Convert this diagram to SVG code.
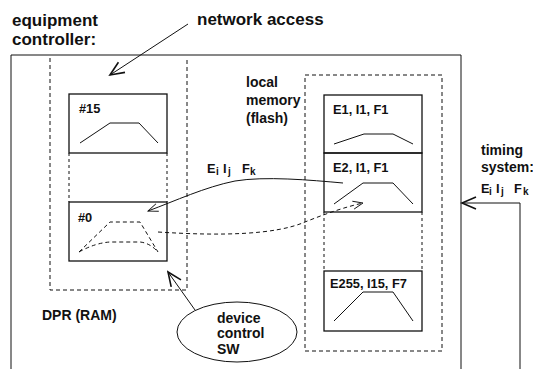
<svg xmlns="http://www.w3.org/2000/svg" width="533" height="369" viewBox="0 0 533 369">
<style>
text{font-family:"Liberation Sans",Arial,sans-serif;font-weight:bold;fill:#111}
.t17{font-size:17px}
.t14{font-size:14px}
.t13{font-size:12.8px}
.sub{font-size:10px}
.solid{fill:none;stroke:#111;stroke-width:1.3}
.thin{fill:none;stroke:#111;stroke-width:1}
.dash{fill:none;stroke:#111;stroke-width:1;stroke-dasharray:4,3}
.dash2{fill:none;stroke:#111;stroke-width:1;stroke-dasharray:3,3}
</style>
<defs>
<marker id="big" markerUnits="userSpaceOnUse" viewBox="-16 -8 18 16" markerWidth="18" markerHeight="16" refX="0" refY="0" orient="auto">
<path d="M-14,-6 L0,0 L-14,6" fill="none" stroke="#111" stroke-width="1.6"/>
</marker>
<marker id="small" markerUnits="userSpaceOnUse" viewBox="-12 -6 14 12" markerWidth="14" markerHeight="12" refX="0" refY="0" orient="auto">
<path d="M-10,-4 L0,0 L-10,4" fill="none" stroke="#111" stroke-width="0.9"/>
</marker>
</defs>

<g id="labels">
<text class="t17" x="12" y="26">equipment</text>
<text class="t17" x="12" y="45">controller:</text>
<text class="t17" x="197" y="25">network access</text>
</g>

<g id="equipment-controller">
<path class="thin" d="M11,369 V55 H461 V369" stroke-width="1.2"/>
</g>

<g id="dpr">
<path class="dash" d="M50,58 V290 H187 V58"/>
<text class="t14" x="42" y="320">DPR (RAM)</text>
</g>

<g id="slot15">
<rect class="solid" x="69" y="94" width="98" height="59"/>
<text class="t13" x="79" y="113">#15</text>
<path class="thin" d="M80,143 L110,123 L139,123 L158,143"/>
</g>

<g id="slot-gap-left">
<path class="dash2" d="M69,153 V202 M167,153 V202"/>
</g>

<g id="slot0">
<rect class="solid" x="69" y="202" width="98" height="59"/>
<text class="t13" x="78" y="222">#0</text>
<path class="dash" d="M79,252 L110,222 L140,222 L158,252"/>
<path class="dash" d="M79,252 Q95,243 110,242 L140,242 Q150,243 158,252"/>
</g>

<g id="local-memory">
<path class="dash" d="M305,75 H442 V351 H305 Z"/>
<text class="t14" x="246" y="87">local</text>
<text class="t14" x="246" y="105">memory</text>
<text class="t14" x="246" y="123">(flash)</text>
</g>

<g id="e1">
<rect class="solid" x="324" y="95" width="98" height="58"/>
<text class="t13" x="333" y="114">E1, I1, F1</text>
<path class="thin" d="M334,144 L364,134 L393,134 L413,144"/>
</g>

<g id="e2">
<rect class="solid" x="324" y="153" width="98" height="59"/>
<text class="t13" x="333" y="172">E2, I1, F1</text>
<path class="thin" d="M334,204 L363,183 L393,183 L413,204"/>
</g>

<g id="slot-gap-right">
<path class="dash2" d="M324,212 V271 M422,212 V271"/>
</g>

<g id="e255">
<rect class="solid" x="324" y="271" width="98" height="60"/>
<text class="t13" x="330" y="288">E255, I15, F7</text>
<path class="thin" d="M334,321 L363,292 L393,292 L413,321"/>
</g>

<g id="device-control-sw">
<ellipse class="thin" cx="237" cy="332" rx="60" ry="30"/>
<text class="t14" x="217" y="323">device</text>
<text class="t14" x="217" y="338">control</text>
<text class="t14" x="217" y="354">SW</text>
</g>

<g id="timing-system">
<text class="t14" x="481" y="155">timing</text>
<text class="t14" x="481" y="172">system:</text>
<text class="t13" x="481" y="193">E</text>
<text class="sub" x="489" y="195">i</text>
<text class="t13" x="496" y="193">I</text>
<text class="sub" x="501" y="195">j</text>
<text class="t13" x="514" y="193">F</text>
<text class="sub" x="523" y="195">k</text>
</g>

<g id="connectors">
<path class="thin" d="M188,24 L110,75" stroke-width="1.5" marker-end="url(#big)"/>
<path class="thin" d="M195,310 L168,272" stroke-width="1.5" marker-end="url(#big)"/>
<path class="thin" d="M520,369 V203 H462" stroke-width="1.3" marker-end="url(#big)"/>
<path class="thin" d="M343,183 C310,180 265,176 235,181 C205,187 175,201 148,211" stroke-width="0.9" marker-end="url(#small)"/>
<path class="dash" d="M158,232 C220,236 275,235 305,222 C325,214 345,207 363,203" stroke-width="0.9" marker-end="url(#small)"/>
<text class="t13" x="207" y="173">E</text>
<text class="sub" x="216" y="175">i</text>
<text class="t13" x="223" y="173">I</text>
<text class="sub" x="228" y="175">j</text>
<text class="t13" x="242" y="173">F</text>
<text class="sub" x="250" y="175">k</text>
</g>
</svg>
